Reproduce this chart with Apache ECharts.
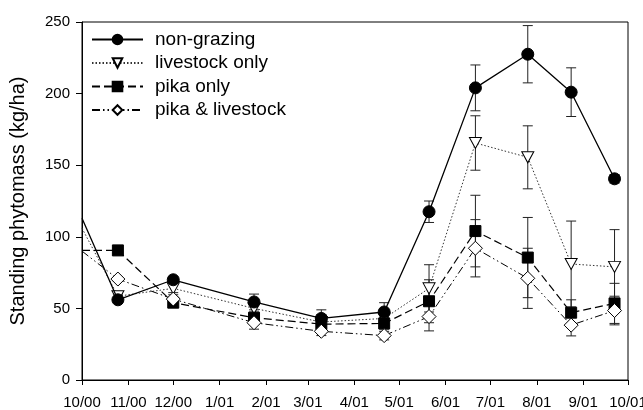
<!DOCTYPE html>
<html>
<head>
<meta charset="utf-8">
<script src="https://cdn.jsdelivr.net/npm/echarts@6/dist/echarts.min.js"></script>
<style>
html,body{margin:0;padding:0;background:#fff;}
#chart{width:643px;height:410px;}
</style>
</head>
<body>
<div id="chart"></div>
<script>
// Sampling dates, days after 1 Oct 2000
const sampleDays = [0, 24, 61, 115, 160, 202, 232, 263, 298, 327, 356];
// Month tick positions (days after 1 Oct 2000) and labels
const tickDays = [0, 31, 61, 92, 123, 151, 182, 212, 243, 273, 304, 335, 365];
const tickLabels = ['10/00','11/00','12/00','1/01','2/01','3/01','4/01','5/01','6/01','7/01','8/01','9/01','10/01'];

const seriesNames = ['non-grazing', 'livestock only', 'pika only', 'pika & livestock'];
const nonGrazing    = [113, 56, 70, 54.5, 43, 47.5, 117.5, 204, 227.5, 201, 140.5];
const nonGrazingErr = [0, 1.5, 2, 5.5, 6, 6.5, 7.5, 16, 20, 17, 3];
const livestockOnly    = [106, 58.5, 64, 50, 40.5, 43, 64, 165.5, 155.5, 81, 79];
const livestockOnlyErr = [0, 1.5, 3, 4, 5, 5, 16.5, 19, 22, 30, 26];
const pikaOnly    = [90.5, 90.5, 54, 43.5, 39, 39.5, 55, 104, 85.5, 47, 53.5];
const pikaOnlyErr = [0, 1.5, 3, 4, 4, 4, 15, 25, 28, 9, 14];
const pikaLivestock    = [90, 70.5, 56.5, 40, 34, 31, 44.3, 92, 71, 38.3, 48.5];
const pikaLivestockErr = [0, 1.5, 3, 4.5, 3, 3, 10, 20, 21, 7.5, 10];

const FONT = '"Liberation Sans", Arial, Helvetica, sans-serif';

function lineData(vals) {
  return vals.map((v, i) => i === 0 ? {value: [sampleDays[i], v], symbol: 'none'} : [sampleDays[i], v]);
}
function errData(vals, errs) {
  const out = [];
  vals.forEach((v, i) => { if (errs[i] > 0) out.push([sampleDays[i], v - errs[i], v + errs[i]]); });
  return out;
}
function errSeries(vals, errs) {
  return {
    type: 'custom',
    silent: true,
    z: 1,
    encode: {x: 0, y: [1, 2]},
    data: errData(vals, errs),
    renderItem: function (params, api) {
      const x = api.value(0);
      const lo = api.coord([x, api.value(1)]);
      const hi = api.coord([x, api.value(2)]);
      const w = 5;
      const st = {stroke: '#222', lineWidth: 1};
      return {
        type: 'group',
        children: [
          {type: 'line', shape: {x1: lo[0], y1: lo[1], x2: hi[0], y2: hi[1]}, style: st},
          {type: 'line', shape: {x1: hi[0] - w, y1: hi[1], x2: hi[0] + w, y2: hi[1]}, style: st},
          {type: 'line', shape: {x1: lo[0] - w, y1: lo[1], x2: lo[0] + w, y2: lo[1]}, style: st}
        ]
      };
    }
  };
}

const triDown = 'path://M0,0 L10,0 L5,9 Z';

const chart = echarts.init(document.getElementById('chart'), null, {renderer: 'canvas'});
chart.setOption({
  animation: false,
  backgroundColor: '#fff',
  grid: {left: 82, right: 15, top: 22, bottom: 30, show: true, borderColor: '#000', borderWidth: 1,
         backgroundColor: 'transparent', containLabel: false, outerBoundsMode: 'none'},
  legend: {
    data: seriesNames,
    left: 91, top: 30, orient: 'vertical', padding: 0,
    itemWidth: 51, itemHeight: 12, itemGap: 4.5,
    textStyle: {fontFamily: FONT, fontSize: 19, color: '#000', padding: [0, 0, 0, 7]}
  },
  xAxis: {
    type: 'value', min: 0, max: 365,
    axisLine: {lineStyle: {color: '#000', width: 1}},
    axisTick: {customValues: tickDays, length: 5, lineStyle: {color: '#000'}},
    axisLabel: {
      customValues: tickDays,
      formatter: function (v) { const i = tickDays.indexOf(v); return i >= 0 ? tickLabels[i] : ''; },
      fontFamily: FONT, fontSize: 15, color: '#000', margin: 15
    },
    splitLine: {show: false}
  },
  yAxis: {
    type: 'value', min: 0, max: 250, interval: 50,
    name: 'Standing phytomass (kg/ha)', nameLocation: 'middle', nameGap: 54,
    nameTextStyle: {fontFamily: FONT, fontSize: 20, color: '#000'},
    axisLine: {show: true, lineStyle: {color: '#000', width: 1}},
    axisTick: {show: true, length: 6, lineStyle: {color: '#000'}},
    axisLabel: {fontFamily: FONT, fontSize: 15, color: '#000', margin: 12},
    splitLine: {show: false}
  },
  series: [
    errSeries(nonGrazing, nonGrazingErr),
    errSeries(livestockOnly, livestockOnlyErr),
    errSeries(pikaOnly, pikaOnlyErr),
    errSeries(pikaLivestock, pikaLivestockErr),
    {
      name: seriesNames[0], type: 'line', z: 5, data: lineData(nonGrazing),
      symbol: 'circle', symbolSize: 12,
      lineStyle: {color: '#000', width: 1.3, type: 'solid'},
      itemStyle: {color: '#000', borderColor: '#000', borderWidth: 1}
    },
    {
      name: seriesNames[1], type: 'line', z: 4, data: lineData(livestockOnly),
      symbol: triDown, symbolSize: [12, 11],
      lineStyle: {color: '#333', width: 1, type: [1.5, 2]},
      itemStyle: {color: '#fff', borderColor: '#000', borderWidth: 1}
    },
    {
      name: seriesNames[2], type: 'line', z: 4, data: lineData(pikaOnly),
      symbol: 'rect', symbolSize: 11,
      lineStyle: {color: '#000', width: 1.2, type: [8, 4]},
      itemStyle: {color: '#000', borderColor: '#000', borderWidth: 1}
    },
    {
      name: seriesNames[3], type: 'line', z: 4, data: lineData(pikaLivestock),
      symbol: 'diamond', symbolSize: [14, 14],
      lineStyle: {color: '#000', width: 1, type: [8, 3, 1.5, 3, 1.5, 3]},
      itemStyle: {color: '#fff', borderColor: '#000', borderWidth: 1}
    }
  ]
});
</script>
</body>
</html>
